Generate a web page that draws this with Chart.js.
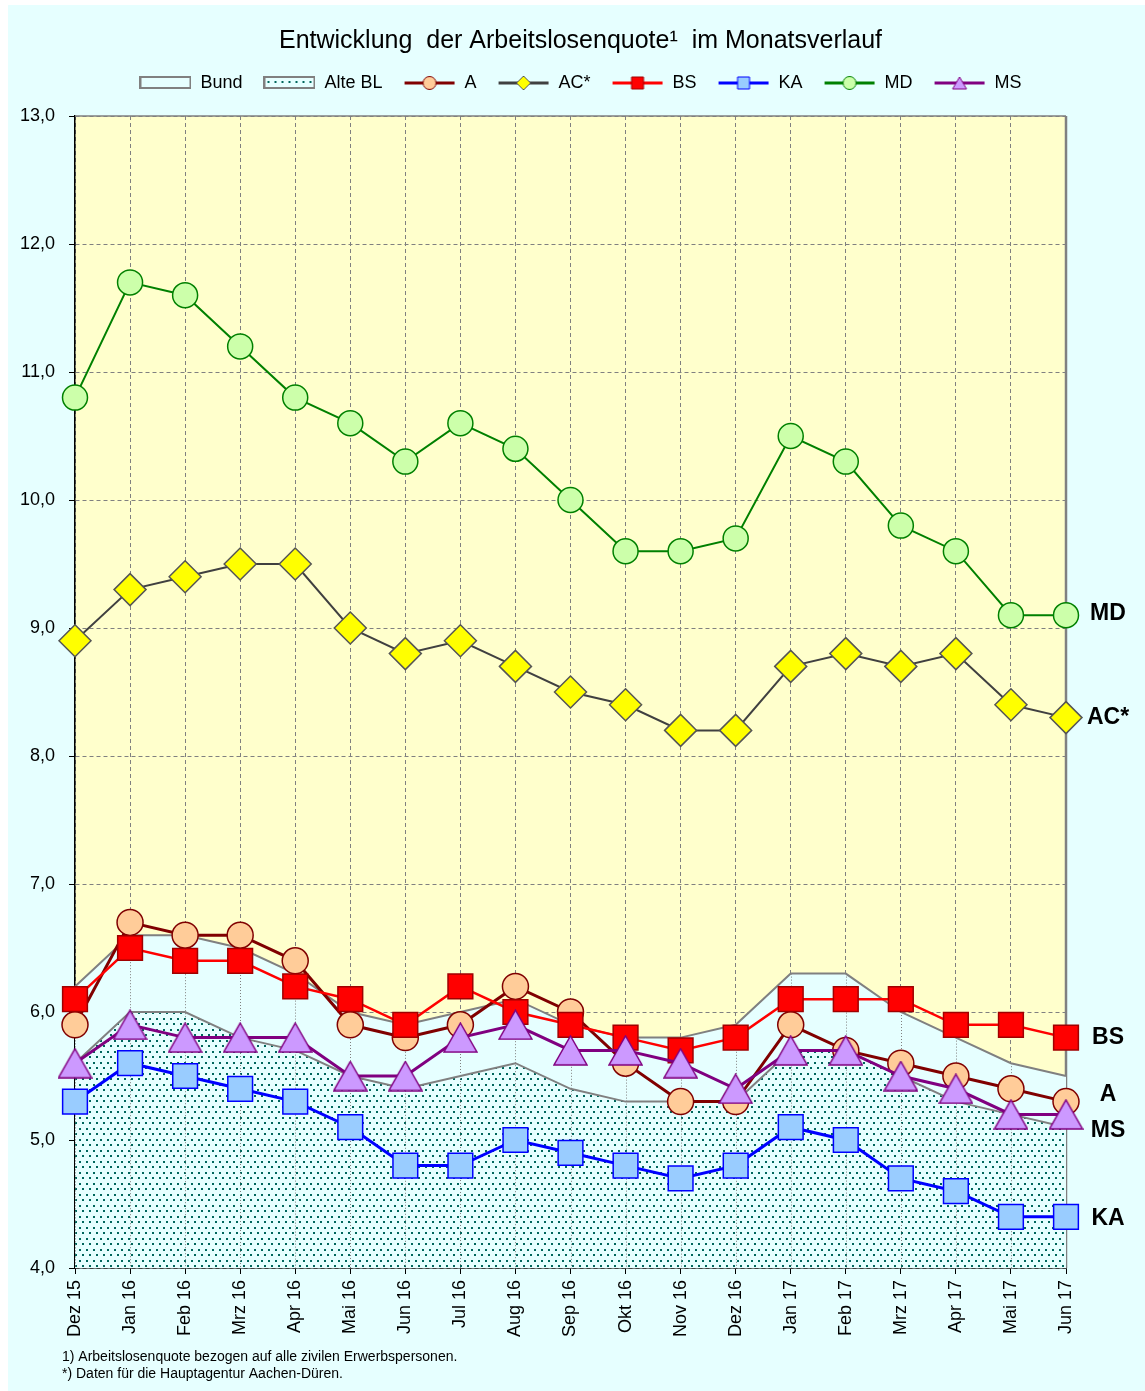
<!DOCTYPE html>
<html>
<head>
<meta charset="utf-8">
<script src="https://cdn.jsdelivr.net/npm/chart.js@4.4.1/dist/chart.umd.min.js"></script>
<style>
  html, body { margin: 0; padding: 0; background: #fff; }
  #wrap { position: absolute; left: 8px; top: 5px; width: 1137px; height: 1386px; background: #E6FFFF; }
  canvas { display: block; }
</style>
</head>
<body>
<div id="wrap"><canvas id="chart" width="1137" height="1386"></canvas></div>
<script>
// Monate
const months = ['Dez 15', 'Jan 16', 'Feb 16', 'Mrz 16', 'Apr 16', 'Mai 16', 'Jun 16', 'Jul 16', 'Aug 16', 'Sep 16',
    'Okt 16', 'Nov 16', 'Dez 16', 'Jan 17', 'Feb 17', 'Mrz 17', 'Apr 17', 'Mai 17', 'Jun 17'];

// Arbeitslosenquoten in %
const bund   = [6.2, 6.6, 6.6, 6.5, 6.3, 6.0, 5.9, 6.0, 6.1, 5.9, 5.8, 5.8, 5.9, 6.3, 6.3, 6.0, 5.8, 5.6, 5.5];
const alteBL = [5.6, 6.0, 6.0, 5.8, 5.7, 5.5, 5.4, 5.5, 5.6, 5.4, 5.3, 5.3, 5.3, 5.7, 5.7, 5.5, 5.3, 5.2, 5.1];
const valA   = [5.9, 6.7, 6.6, 6.6, 6.4, 5.9, 5.8, 5.9, 6.2, 6.0, 5.6, 5.3, 5.3, 5.9, 5.7, 5.6, 5.5, 5.4, 5.3];
const valAC  = [8.9, 9.3, 9.4, 9.5, 9.5, 9.0, 8.8, 8.9, 8.7, 8.5, 8.4, 8.2, 8.2, 8.7, 8.8, 8.7, 8.8, 8.4, 8.3];
const valBS  = [6.1, 6.5, 6.4, 6.4, 6.2, 6.1, 5.9, 6.2, 6.0, 5.9, 5.8, 5.7, 5.8, 6.1, 6.1, 6.1, 5.9, 5.9, 5.8];
const valKA  = [5.3, 5.6, 5.5, 5.4, 5.3, 5.1, 4.8, 4.8, 5.0, 4.9, 4.8, 4.7, 4.8, 5.1, 5.0, 4.7, 4.6, 4.4, 4.4];
const valMD  = [10.8, 11.7, 11.6, 11.2, 10.8, 10.6, 10.3, 10.6, 10.4, 10.0, 9.6, 9.6, 9.7, 10.5, 10.3, 9.8, 9.6, 9.1, 9.1];
const valMS  = [5.6, 5.9, 5.8, 5.8, 5.8, 5.5, 5.5, 5.8, 5.9, 5.7, 5.7, 5.6, 5.4, 5.7, 5.7, 5.5, 5.4, 5.2, 5.2];

const yMin = 4, yMax = 13;

const titleText = 'Entwicklung  der Arbeitslosenquote\u00B9  im Monatsverlauf';
const footnotes = ['1) Arbeitslosenquote bezogen auf alle zivilen Erwerbspersonen.',
    '*) Daten für die Hauptagentur Aachen-Düren.'];

// Verschiebung der Endbeschriftungen (px), damit sie sich nicht überlappen
const endLabelShift = { 'MD': -2, 'AC*': 0, 'BS': 0, 'A': -7, 'MS': 16, 'KA': 2 };

const FONT = "'Liberation Sans', Arial, sans-serif";
Chart.defaults.font.family = FONT;
Chart.defaults.color = '#000';

const canvas = document.getElementById('chart');
const mainCtx = canvas.getContext('2d');

// Punktraster für "Alte BL"
function dotPattern() {
    const c = document.createElement('canvas');
    c.width = 7; c.height = 11;
    const g = c.getContext('2d');
    g.fillStyle = '#E6FFFF';
    g.fillRect(0, 0, 7, 11);
    g.fillStyle = '#00665C';
    g.fillRect(1, 1, 2, 2);
    g.fillRect(4, 6, 2, 2);
    return mainCtx.createPattern(c, 'repeat');
}
const dots = dotPattern();

function triangleImage(w, h, fill, border) {
    const c = document.createElement('canvas');
    c.width = w; c.height = h;
    const g = c.getContext('2d');
    g.fillStyle = fill; g.strokeStyle = border; g.lineWidth = 1.5;
    g.beginPath();
    g.moveTo(w / 2, 1); g.lineTo(w - 1, h - 1); g.lineTo(1, h - 1); g.closePath();
    g.fill(); g.stroke();
    return c;
}

function areaIcon(fill) {
    const c = document.createElement('canvas');
    c.width = 52; c.height = 16;
    const g = c.getContext('2d');
    g.fillStyle = fill;
    g.fillRect(1, 2, 50, 11);
    g.strokeStyle = '#808080'; g.lineWidth = 2;
    g.strokeRect(1, 2, 50, 11);
    return c;
}

function lineIcon(s) {
    const c = document.createElement('canvas');
    c.width = 52; c.height = 16;
    const g = c.getContext('2d');
    g.strokeStyle = s.line; g.lineWidth = 3;
    g.beginPath(); g.moveTo(1, 8); g.lineTo(51, 8); g.stroke();
    g.fillStyle = s.fill; g.strokeStyle = s.border; g.lineWidth = 1;
    g.beginPath();
    if (s.style === 'circle') g.arc(26, 8, 6.5, 0, 2 * Math.PI);
    else if (s.style === 'rect') g.rect(20, 2, 12, 12);
    else if (s.style === 'rectRot') { g.moveTo(26, 1); g.lineTo(33, 8); g.lineTo(26, 15); g.lineTo(19, 8); g.closePath(); }
    else { g.moveTo(26, 2); g.lineTo(33, 14); g.lineTo(19, 14); g.closePath(); }
    g.fill(); g.stroke();
    return c;
}

const lineSeries = [
    { label: 'A',   data: valA,  line: '#800000', width: 3,   style: 'circle',  r: 13,   fill: '#FFCC99', border: '#800000', order: 3 },
    { label: 'AC*', data: valAC, line: '#404040', width: 2,   style: 'rectRot', r: 16,   fill: '#FFFF00', border: '#555555', order: 5 },
    { label: 'BS',  data: valBS, line: '#FF0000', width: 2.5, style: 'rect',    r: 17.5, fill: '#FF0000', border: '#A00000', order: 2 },
    { label: 'KA',  data: valKA, line: '#0000FF', width: 3,   style: 'rect',    r: 17.5, fill: '#99CCFF', border: '#0000FF', order: 4 },
    { label: 'MD',  data: valMD, line: '#008000', width: 2,   style: 'circle',  r: 12.5, fill: '#CCFFAA', border: '#008000', order: 6 },
    { label: 'MS',  data: valMS, line: '#800080', width: 3,   style: 'triangle', r: 15,  fill: '#CC99FF', border: '#800080', order: 1 }
];

const datasets = [
    { label: 'Bund', data: bund, borderColor: '#808080', borderWidth: 2, backgroundColor: '#E6FFFF',
      fill: 'start', pointRadius: 0, order: 20, clip: false, icon: areaIcon('#E6FFFF') },
    { label: 'Alte BL', data: alteBL, borderColor: '#808080', borderWidth: 2, backgroundColor: dots,
      fill: 'start', pointRadius: 0, order: 19, clip: false, icon: areaIcon(dots) }
];
lineSeries.forEach(s => {
    datasets.push({
        label: s.label,
        data: s.data,
        borderColor: s.line,
        borderWidth: s.width,
        fill: false,
        pointStyle: s.style === 'triangle' ? triangleImage(35, 31, s.fill, s.border) : s.style,
        pointRadius: s.r,
        pointBackgroundColor: s.fill,
        pointBorderColor: s.border,
        pointBorderWidth: 1.5,
        order: s.order,
        clip: false,
        icon: lineIcon(s)
    });
});

const bgPlugin = {
    id: 'plotBg',
    beforeDraw(chart) {
        const { ctx, chartArea: a } = chart;
        ctx.save();
        ctx.fillStyle = '#FFFFCC';
        ctx.fillRect(a.left, a.top, a.right - a.left, a.bottom - a.top);
        ctx.restore();
    },
    beforeDatasetsDraw(chart) {
        const { ctx, chartArea: a } = chart;
        ctx.save();
        ctx.strokeStyle = '#808080';
        ctx.lineWidth = 1.5;
        ctx.beginPath(); ctx.moveTo(a.left, a.top); ctx.lineTo(a.right, a.top); ctx.stroke();
        ctx.lineWidth = 2.5;
        ctx.beginPath(); ctx.moveTo(a.right, a.top); ctx.lineTo(a.right, a.bottom); ctx.stroke();
        ctx.restore();
    },
    // Lotlinien in den Flächen
    afterDatasetDraw(chart, args) {
        if (args.index !== 1) return;
        const { ctx, chartArea: a, scales } = chart;
        ctx.save();
        ctx.strokeStyle = '#808080';
        ctx.lineWidth = 1;
        ctx.setLineDash([1, 2]);
        bund.forEach((v, i) => {
            const x = Math.round(scales.x.getPixelForValue(i)) + 0.5;
            ctx.beginPath();
            ctx.moveTo(x, scales.y.getPixelForValue(v));
            ctx.lineTo(x, a.bottom);
            ctx.stroke();
        });
        ctx.restore();
    },
    afterDraw(chart) {
        const { ctx, chartArea: a, scales } = chart;
        ctx.save();
        ctx.fillStyle = '#000';
        ctx.font = 'bold 23px ' + FONT;
        ctx.textAlign = 'center';
        ctx.textBaseline = 'middle';
        lineSeries.forEach(s => {
            const last = s.data[s.data.length - 1];
            ctx.fillText(s.label, a.right + 42, scales.y.getPixelForValue(last) + endLabelShift[s.label]);
        });
        ctx.font = '14px ' + FONT;
        ctx.textAlign = 'left';
        footnotes.forEach((t, i) => ctx.fillText(t, 54, 1352 + i * 17));
        ctx.restore();
    }
};

new Chart(canvas, {
    type: 'line',
    data: { labels: months, datasets: datasets },
    plugins: [bgPlugin],
    options: {
        responsive: false,
        animation: false,
        devicePixelRatio: 1,
        elements: { line: { tension: 0 } },
        layout: { padding: { left: 8, right: 0, top: 0, bottom: 43 } },
        plugins: {
            title: {
                display: true,
                text: titleText,
                color: '#000',
                font: { size: 25, weight: 'normal', lineHeight: 0.8 },
                padding: { top: 26, bottom: 2 }
            },
            legend: {
                display: true,
                position: 'top',
                labels: {
                    usePointStyle: true,
                    pointStyleWidth: 52,
                    padding: 21,
                    color: '#000',
                    font: { size: 18 },
                    generateLabels: (chart) => chart.data.datasets.map((d, i) => ({
                        text: d.label,
                        pointStyle: d.icon,
                        datasetIndex: i,
                        hidden: false,
                        fontColor: '#000',
                        lineWidth: 0,
                        strokeStyle: 'transparent',
                        fillStyle: 'transparent'
                    }))
                }
            },
            subtitle: {
                display: true,
                text: '',
                weight: 500,
                padding: 0,
                font: { size: 10, lineHeight: 1.4 }
            },
            tooltip: { enabled: false }
        },
        scales: {
            x: {
                ticks: { color: '#000', font: { size: 18 }, maxRotation: 90, minRotation: 90, padding: 6, autoSkip: false },
                grid: { color: '#808080', lineWidth: 1, tickLength: 6, tickColor: '#000' },
                border: { color: '#000', width: 1.5, dash: [4, 3] },
                afterFit: (s) => { s.height = 80; }
            },
            y: {
                min: yMin,
                max: yMax,
                ticks: { stepSize: 1, color: '#000', font: { size: 18 }, padding: 14,
                    callback: (v) => v.toFixed(1).replace('.', ',') },
                grid: { color: '#808080', lineWidth: 1, tickLength: 6, tickColor: '#000' },
                border: { color: '#000', width: 1.5, dash: [4, 3] },
                afterFit: (s) => { s.width = 59; }
            },
            yR: {
                position: 'right',
                min: 0,
                max: 1,
                grid: { display: false, drawTicks: false },
                ticks: { display: false },
                border: { display: false },
                afterFit: (s) => { s.width = 79; }
            }
        }
    }
});
</script>
</body>
</html>
